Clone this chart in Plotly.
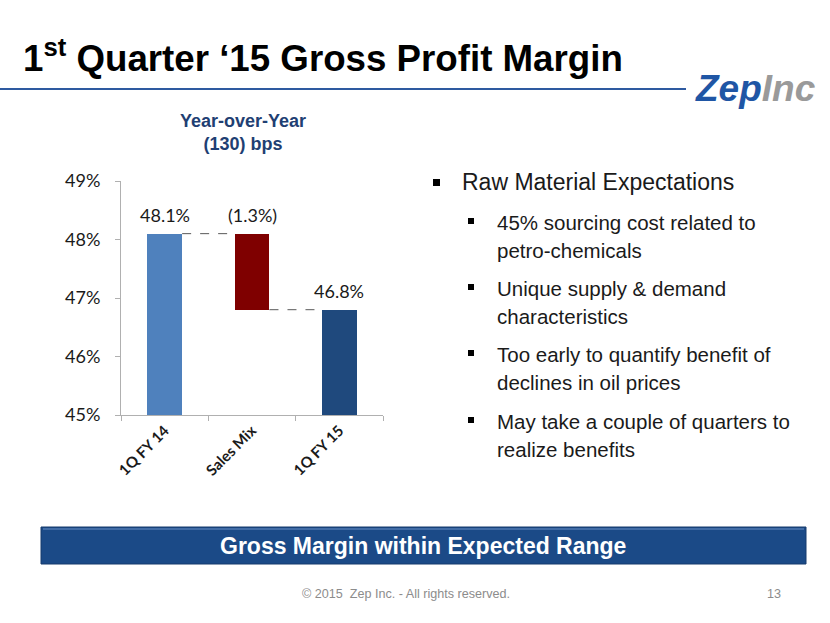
import plotly.graph_objects as go

# ---- data ----
categories = ["1Q FY 14", "Sales Mix", "1Q FY 15"]
start_margin = 48.1
change = -1.3
end_margin = 46.8
value_labels = ["48.1%", "(1.3%)", "46.8%"]
y_ticks = [45, 46, 47, 48, 49]
y_tick_labels = ["45%", "46%", "47%", "48%", "49%"]

bullet_main = "Raw Material Expectations"
bullet_subs = [
    ["45% sourcing cost related to", "petro-chemicals"],
    ["Unique supply & demand", "characteristics"],
    ["Too early to quantify benefit of", "declines in oil prices"],
    ["May take a couple of quarters to", "realize benefits"],
]

W, H = 830, 623
def px(x):
    return x / W
def py(y):
    return 1 - y / H

bar_colors = ["#4F81BD", "#7F0000", "#1F497D"]
bw = 0.4
xs = list(range(len(categories)))
heights = [start_margin, abs(change), end_margin]
bases = [0, start_margin + change, 0]
tops = [start_margin, start_margin, end_margin]

fig = go.Figure()
fig.add_trace(go.Bar(
    x=xs, y=heights, base=bases, width=bw,
    marker=dict(color=bar_colors, line=dict(width=0)),
    hoverinfo="skip", showlegend=False,
))

# connectors
fig.add_trace(go.Scatter(
    x=[xs[0] + bw / 2, xs[1] - bw / 2], y=[start_margin, start_margin],
    mode="lines", line=dict(color="#595959", width=1, dash="dash"),
    showlegend=False, hoverinfo="skip"))
fig.add_trace(go.Scatter(
    x=[xs[1] + bw / 2, xs[2] - bw / 2], y=[start_margin + change, end_margin],
    mode="lines", line=dict(color="#595959", width=1, dash="dash"),
    showlegend=False, hoverinfo="skip"))

annotations = []
for xi, t, lab in zip(xs, tops, value_labels):
    annotations.append(dict(x=xi, y=t, xref="x", yref="y", text=lab,
                            showarrow=False, yanchor="bottom", yshift=6,
                            font=dict(family="Lato", size=18, color="#1a1a1a")))

fig.update_layout(
    width=W, height=H, margin=dict(l=0, r=0, t=0, b=0, autoexpand=False),
    paper_bgcolor="white", plot_bgcolor="white",
    xaxis=dict(domain=[px(121), px(383)], range=[-0.5, 2.5], automargin=False,
               tickvals=xs, ticktext=categories, tickangle=-45, ticks="",
               showline=True, linecolor="#B0B0B0", linewidth=1,
               showgrid=False, zeroline=False,
               tickfont=dict(family="Lato", size=15, color="#1a1a1a", weight="bold"),
               minor=dict(tickvals=[-0.5, 0.5, 1.5, 2.5], ticks="outside",
                          ticklen=5, tickcolor="#B0B0B0", showgrid=False)),
    yaxis=dict(domain=[py(415), py(181)], range=[45, 49], automargin=False,
               tickvals=y_ticks, ticktext=y_tick_labels,
               ticks="outside", ticklen=5, tickcolor="#B0B0B0",
               ticklabelstandoff=11,
               showline=True, linecolor="#B0B0B0", linewidth=1,
               showgrid=False, zeroline=False,
               tickfont=dict(family="Lato", size=18, color="#1a1a1a")),
    bargap=0,
)

shapes = []
# title underline
shapes.append(dict(type="line", xref="paper", yref="paper",
                   x0=0, x1=px(686), y0=py(89), y1=py(89),
                   line=dict(color="#2E5AA0", width=2)))
# banner
shapes.append(dict(type="rect", xref="paper", yref="paper",
                   x0=px(41), x1=px(806), y0=py(564), y1=py(527),
                   fillcolor="#1B4A87", line=dict(color="#163B6C", width=1)))
shapes.append(dict(type="line", xref="paper", yref="paper",
                   x0=px(43), x1=px(804), y0=py(529), y1=py(529),
                   line=dict(color="#4F78B0", width=1.5)))

# title
annotations.append(dict(x=px(21), y=py(56), xref="paper", yref="paper",
                        xanchor="left", yanchor="middle", showarrow=False,
                        text="1<sup>st</sup> Quarter \u201815 Gross Profit Margin",
                        font=dict(family="Liberation Sans", size=36.7, color="black", weight="bold")))
# logo
annotations.append(dict(x=px(693), y=py(88), xref="paper", yref="paper",
                        xanchor="left", yanchor="middle", showarrow=False,
                        text="<b><i><span style='color:#1F56A5'>Zep</span><span style='color:#9A9A9A'>Inc</span></i></b>",
                        font=dict(family="Liberation Sans", size=37)))
# subtitle
annotations.append(dict(x=px(243), y=py(132), xref="paper", yref="paper",
                        xanchor="center", yanchor="middle", showarrow=False,
                        text="Year-over-Year<br>(130) bps",
                        font=dict(family="Liberation Sans", size=18, color="#1F3F73", weight="bold")))

# bullets
shapes.append(dict(type="rect", xref="paper", yref="paper",
                   x0=px(433), x1=px(440), y0=py(186), y1=py(179),
                   fillcolor="black", line=dict(width=0)))
annotations.append(dict(x=px(460), y=py(182), xref="paper", yref="paper",
                        xanchor="left", yanchor="middle", showarrow=False,
                        text=bullet_main,
                        font=dict(family="Liberation Sans", size=23, color="#1a1a1a")))
sub_y = [222, 288, 354, 421]
for yy, lines in zip(sub_y, bullet_subs):
    shapes.append(dict(type="rect", xref="paper", yref="paper",
                       x0=px(468), x1=px(474), y0=py(yy + 2), y1=py(yy - 4),
                       fillcolor="black", line=dict(width=0)))
    for k, ln in enumerate(lines):
        annotations.append(dict(x=px(495), y=py(yy + 28.5 * k), xref="paper", yref="paper",
                                xanchor="left", yanchor="middle", showarrow=False,
                                text=ln,
                                font=dict(family="Liberation Sans", size=20.5, color="#1a1a1a")))

# banner text
annotations.append(dict(x=px(423), y=py(546), xref="paper", yref="paper",
                        xanchor="center", yanchor="middle", showarrow=False,
                        text="Gross Margin within Expected Range",
                        font=dict(family="Liberation Sans", size=23, color="white", weight="bold")))
# footer
annotations.append(dict(x=px(406), y=py(594), xref="paper", yref="paper",
                        xanchor="center", yanchor="middle", showarrow=False,
                        text="\u00a9 2015  Zep Inc. - All rights reserved.",
                        font=dict(family="Liberation Sans", size=12.6, color="#8C8C8C")))
annotations.append(dict(x=px(774), y=py(594), xref="paper", yref="paper",
                        xanchor="center", yanchor="middle", showarrow=False,
                        text="13",
                        font=dict(family="Liberation Sans", size=12.6, color="#8C8C8C")))

fig.update_layout(shapes=shapes, annotations=annotations)
fig.write_html("out.html", config={"displayModeBar": False},
               post_script="document.body.style.margin='0';")
